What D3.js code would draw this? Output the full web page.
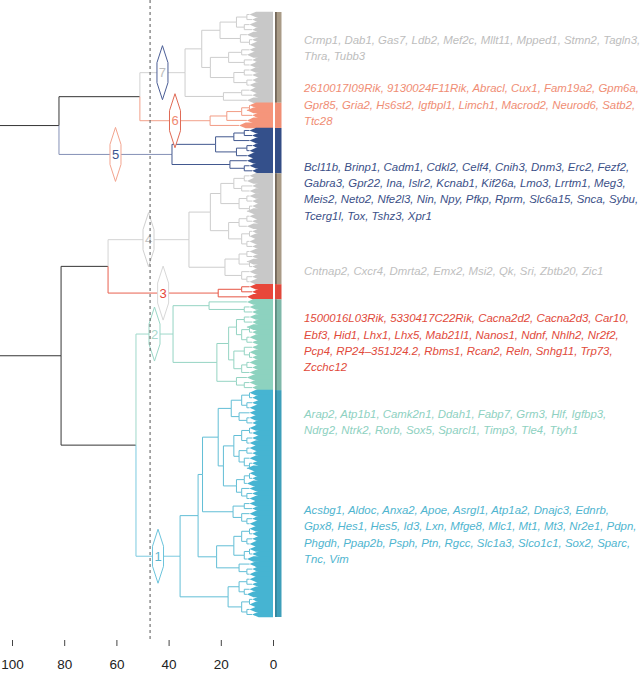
<!DOCTYPE html>
<html>
<head>
<meta charset="utf-8">
<script src="https://cdn.jsdelivr.net/npm/d3@7"></script>
<style>
body { margin: 0; background: #fff; }
svg { display: block; font-family: "Liberation Sans", Arial, Helvetica, sans-serif; }
</style>
</head>
<body>
<svg id="wrapper" width="642" height="673"></svg>
<script>
// clusters top to bottom
var clusterIds = [7, 6, 5, 4, 3, 2, 1]

// tree above the cut clusters, numbers at the ends are cluster ids
var topTree = [110, [82, [51, 7, 6], 5], [81.2, [63.2, 4, 3], [52.5, 2, 1]]]

// cluster subtrees: [height, child, child], a bare number = leaf bundle height
var tree7 = [33.7,
  [27.3,
    [20.3, [14, [10, 9, 8], [11, 9, 8]], [12.5, 10, [9, 8, 9]]],
    [24, [17, [12, 9, 10], [11, 8, 9]], [15, [11, 9, 8], [10, 8, 9]]]],
  [19, [12, 9, 8], 10]]
var tree6 = [24.1, [17.7, [12, [9, 9, 10], 8], 10], 13]
var tree5 = [38.7, [22, [15, [11, 9, 8], 9], [14, [10, 8, 9], 10]], [16.5, 10, [11, 9, 8]]]
var tree4 = [32.2,
  [24,
    [20, [15, [11, 9, 10], [12, 8, 9]], [13, [10, 9, 8], [9, 8, 10]]],
    [17, [13, [10, 9, 8], 10], [12, [9, 8, 9], [10, 9, 8]]]],
  [18.4, [13, [10, 9, 8], [9, 10, 8]], [12, 9, [10, 8, 9]]]]
var tree3 = [21, [12, 9, 8], 10]
var tree2 = [38.3,
  [24.5, 10, [11, 9, 8]],
  [21.5,
    [17, [14, [11, 9, 8], [12, [9, 10, 8], [10, 9, 8]]], [15, [11, 8, [9, 9, 8]], [12, [10, 9, 8], 9]]],
    [14, 10, [11, 9, 8]]]]
var tree1 = [35.6,
  [28.7,
    [27,
      [21,
        [16, [12, [9, 9, 8], [10, 8, 9]], [13, 9, [10, 9, 8]]],
        [19, [15, [12, [9, 9, 8], [10, 8, 9]], [13, [10, 9, 8], [11, 9, [9, 8, 10]]]],
             [14, [11, [9, 9, 8], 10], [12, 9, [10, 8, 9]]]]],
      [15.3, [11, 9, 8], [12, 9, [10, 8, 9]]]],
    [21.6, [15, [12, [9, 9, 8], [10, 8, 9]], [11, [9, 9, 8], 10]], [13, 9, [10, 8, 9]]]],
  [17.2, [13, [10, 9, 8], [11, 9, 10]], [12, [9, 8, 9], [10, 9, 8]]]]

var cutHeight = 47.1
var axisTicks = [100, 80, 60, 40, 20, 0]

var genes7 = [['Crmp1', 'Dab1', 'Gas7', 'Ldb2', 'Mef2c', 'Mllt11', 'Mpped1', 'Stmn2', 'Tagln3'],
  ['Thra', 'Tubb3']]
var genes6 = [['2610017I09Rik', '9130024F11Rik', 'Abracl', 'Cux1', 'Fam19a2', 'Gpm6a'],
  ['Gpr85', 'Gria2', 'Hs6st2', 'Igfbpl1', 'Limch1', 'Macrod2', 'Neurod6', 'Satb2'],
  ['Ttc28']]
var genes5 = [['Bcl11b', 'Brinp1', 'Cadm1', 'Cdkl2', 'Celf4', 'Cnih3', 'Dnm3', 'Erc2', 'Fezf2'],
  ['Gabra3', 'Gpr22', 'Ina', 'Islr2', 'Kcnab1', 'Kif26a', 'Lmo3', 'Lrrtm1', 'Meg3'],
  ['Meis2', 'Neto2', 'Nfe2l3', 'Nin', 'Npy', 'Pfkp', 'Rprm', 'Slc6a15', 'Snca', 'Sybu'],
  ['Tcerg1l', 'Tox', 'Tshz3', 'Xpr1']]
var genes4 = [['Cntnap2', 'Cxcr4', 'Dmrta2', 'Emx2', 'Msi2', 'Qk', 'Sri', 'Zbtb20', 'Zic1']]
var genes3 = [['1500016L03Rik', '5330417C22Rik', 'Cacna2d2', 'Cacna2d3', 'Car10'],
  ['Ebf3', 'Hid1', 'Lhx1', 'Lhx5', 'Mab21l1', 'Nanos1', 'Ndnf', 'Nhlh2', 'Nr2f2'],
  ['Pcp4', 'RP24\u2013351J24.2', 'Rbms1', 'Rcan2', 'Reln', 'Snhg11', 'Trp73'],
  ['Zcchc12']]
var genes2 = [['Arap2', 'Atp1b1', 'Camk2n1', 'Ddah1', 'Fabp7', 'Grm3', 'Hlf', 'Igfbp3'],
  ['Ndrg2', 'Ntrk2', 'Rorb', 'Sox5', 'Sparcl1', 'Timp3', 'Tle4', 'Ttyh1']]
var genes1 = [['Acsbg1', 'Aldoc', 'Anxa2', 'Apoe', 'Asrgl1', 'Atp1a2', 'Dnajc3', 'Ednrb'],
  ['Gpx8', 'Hes1', 'Hes5', 'Id3', 'Lxn', 'Mfge8', 'Mlc1', 'Mt1', 'Mt3', 'Nr2e1', 'Pdpn'],
  ['Phgdh', 'Ppap2b', 'Psph', 'Ptn', 'Rgcc', 'Slc1a3', 'Slco1c1', 'Sox2', 'Sparc'],
  ['Tnc', 'Vim']]

// styles (same order as clusterIds)
var fillColors = ['#c8c8c8', '#f5957b', '#34508b', '#c8c8c8', '#e8473a', '#8dd2bf', '#46b4d2']
var lineColors = ['#cdcdcd', '#f29c85', '#42588f', '#cdcdcd', '#e65443', '#95d4c3', '#62bed6']
var stemColors = ['#d2d2d2', '#f2a08a', '#8490b6', '#d4d4d4', '#e8604f', '#9fd8ca', '#7ccadf']
var textColors = ['#bdbdbd', '#f08d74', '#3b5088', '#c0c0c0', '#e14a3b', '#8ed1c1', '#4fb5cf']
var hexStroke = ['#4b5e96', '#e06a55', '#f3a48e', '#d0d0d0', '#d8d8d8', '#9bd7c7', '#6cc4dc']
var hexText = ['#bdbdbd', '#f08a72', '#3b5590', '#c4c4c4', '#e5473a', '#a9d9cc', '#5cb6cf']
var barLeft = ['#74685a', '#f08e74', '#334d85', '#74685a', '#e0473a', '#5f8d82', '#34869d']
var barRight = ['#a99b87', '#f08e74', '#334d85', '#a99b87', '#e0473a', '#7fb8a9', '#3e9fba']
var textTop = [44, 92.3, 170.7, 274.7, 322.3, 418, 514]
var lineH = 16.3

var trees = [tree7, tree6, tree5, tree4, tree3, tree2, tree1]
var geneLists = [genes7, genes6, genes5, genes4, genes3, genes2, genes1]

var svg = d3.select('#wrapper')

var x = d3.scaleLinear().domain([0, 100]).range([273, 12])

var toNode = (t, k) => {
    if (typeof t === 'number') return {h: t, k: k, leaf: true}
    return {h: t[0], k: k, children: t.slice(1).map(c => toNode(c, k))}
}
var topNode = (t) => {
    if (typeof t === 'number') {
        var k = clusterIds.indexOf(t)
        var n = toNode(trees[k], k)
        n.clusterRoot = true
        return n
    }
    return {h: t[0], k: null, children: t.slice(1).map(topNode)}
}

var root = d3.hierarchy(topNode(topTree))
var leaves = root.leaves()
var y = d3.scaleLinear().domain([0, leaves.length]).range([12, 617])

leaves.forEach((d, i) => {
    d.i = i
    d.yc = y(i + 0.5)
})
root.eachAfter(d => {
    if (d.children) d.yc = (d.children[0].yc + d.children[d.children.length - 1].yc) / 2
})

var clusterRoots = root.descendants().filter(d => d.data.clusterRoot)

svg.append('defs').append('clipPath').attr('id', 'plotclip')
    .append('rect').attr('x', 0).attr('y', 0).attr('width', 300).attr('height', 640)

var plot = svg.append('g').attr('clip-path', 'url(#plotclip)')

// solid leaf block of each cluster
plot.selectAll('rect.block')
    .data(clusterRoots)
    .join('rect')
    .attr('class', 'block')
    .attr('fill', d => fillColors[d.data.k])
    .attr('x', x(5.5))
    .attr('width', x(0) - x(5.5))
    .attr('y', d => y(d.leaves()[0].i))
    .attr('height', d => y(d.leaves().length) - y(0))

// leaf bundles
plot.selectAll('path.bundle')
    .data(leaves)
    .join('path')
    .attr('class', 'bundle')
    .attr('fill', d => fillColors[d.data.k])
    .attr('d', d => {
        var y0 = y(d.i) - 0.3, y1 = y(d.i + 1) + 0.3, hf = Math.max(d.data.h - 2.5, 0)
        return 'M' + x(d.data.h) + ',' + d.yc + 'L' + x(hf) + ',' + y0 + 'L' + x(0) + ',' + y0 +
            'L' + x(0) + ',' + y1 + 'L' + x(hf) + ',' + y1 + 'Z'
    })

// branches
plot.selectAll('path.edge')
    .data(root.descendants().filter(d => d.parent))
    .join('path')
    .attr('class', 'edge')
    .attr('fill', 'none')
    .attr('stroke-width', 1)
    .attr('stroke', d => {
        if (d.data.k === null) return '#353535'
        if (d.data.clusterRoot) return stemColors[d.data.k]
        return lineColors[d.data.k]
    })
    .attr('d', d => 'M' + x(d.parent.data.h) + ',' + d.parent.yc + 'V' + d.yc + 'H' + x(d.data.h))

// colour bar
clusterRoots.forEach(c => {
    var lv = c.leaves()
    var y0 = y(lv[0].i), y1 = y(lv[lv.length - 1].i + 1)
    svg.append('rect').attr('x', 275).attr('y', y0).attr('width', 6.5).attr('height', y1 - y0)
        .attr('fill', barRight[c.data.k])
    svg.append('rect').attr('x', 275).attr('y', y0).attr('width', 1.8).attr('height', y1 - y0)
        .attr('fill', barLeft[c.data.k])
})

// hexagon labels
var hex = svg.selectAll('g.hex')
    .data(clusterRoots)
    .join('g')
    .attr('class', 'hex')
    .attr('transform', d => 'translate(' + (x(d.parent.data.h) + x(d.data.h)) / 2 + ',' + d.yc + ')')

hex.append('path')
    .attr('d', 'M0,-27L5.5,-10L5.5,10L0,27L-5.5,10L-5.5,-10Z')
    .attr('fill', '#fff')
    .attr('stroke', d => hexStroke[d.data.k])
    .attr('stroke-width', 1)

hex.append('text')
    .attr('text-anchor', 'middle')
    .attr('dy', '0.36em')
    .style('font-size', '13px')
    .attr('fill', d => hexText[d.data.k])
    .text(d => clusterIds[d.data.k])

// cut line
svg.append('line')
    .attr('x1', x(cutHeight)).attr('x2', x(cutHeight))
    .attr('y1', 0).attr('y2', 641)
    .attr('stroke', '#555')
    .attr('stroke-width', 1)
    .attr('stroke-dasharray', '3,3')

// axis
var axis = svg.append('g')
    .attr('transform', 'translate(0,640)')
    .call(d3.axisBottom(x).tickValues(axisTicks).tickSize(6).tickPadding(13).tickFormat(d3.format('d')))
axis.select('.domain').remove()
axis.selectAll('line').attr('stroke', '#444')
axis.selectAll('text').attr('fill', '#222').style('font-size', '13.5px').style('font-family', '"Liberation Sans", Arial, sans-serif')

// gene lists
geneLists.forEach((lines, k) => {
    svg.selectAll('text.g' + k)
        .data(lines)
        .join('text')
        .attr('class', 'g' + k)
        .attr('x', 304)
        .attr('y', (d, j) => textTop[k] + j * lineH)
        .attr('fill', textColors[k])
        .style('font-style', 'italic')
        .style('font-size', '11.4px')
        .text((d, j) => d.join(', ') + (j < lines.length - 1 ? ',' : ''))
})
</script>
</body>
</html>
